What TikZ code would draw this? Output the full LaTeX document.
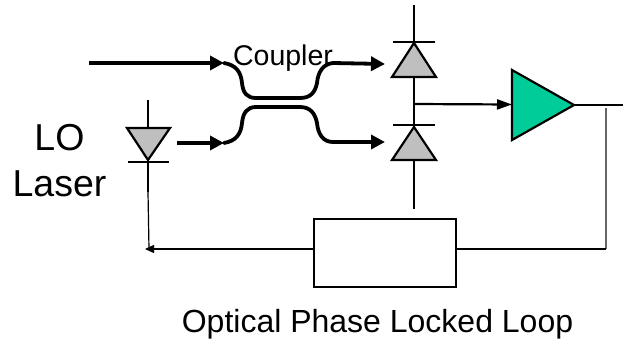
\documentclass[tikz,border=0pt]{standalone}
\usepackage{fontspec}
\setmainfont{Liberation Sans}
\usetikzlibrary{arrows.meta}
\tikzset{
  fibre/.style={line width=3.8pt,black},
  wire/.style={line width=2.2pt,black},
  thinwire/.style={line width=1.2pt,black},
  feed/.style={line width=1.5pt,black!60},
  bigtip/.style={-{Triangle[length=14pt,width=14pt]}},
  midtip/.style={-{Triangle[length=15pt,width=10pt]}},
  smalltip/.style={-{Triangle[length=9pt,width=8pt]}},
  diode/.style={draw=black,line width=2.2pt,fill=black!25,line join=miter},
  amp/.style={draw=black,line width=2.2pt,fill=ampgreen,line join=miter},
  lbl/.style={inner sep=0pt,text=black,anchor=base},
}
\definecolor{ampgreen}{RGB}{0,204,153}
\begin{document}
\begin{tikzpicture}[x=1pt,y=-1pt]
\useasboundingbox (0,0) rectangle (623,345);
% named points
\coordinate (inA) at (89,63);
\coordinate (inB) at (177,143);
\coordinate (c1L) at (224,63);
\coordinate (c1R) at (333,63);
\coordinate (c2L) at (224,143);
\coordinate (c2R) at (333,142);
\coordinate (d1Top) at (414,5);
\coordinate (d1Apex) at (414,43);
\coordinate (d1Base) at (414,77);
\coordinate (d2Apex) at (414,127);
\coordinate (d2Base) at (414,160);
\coordinate (d2End) at (414,209);
\coordinate (tap) at (414,104);
\coordinate (d1In) at (385,64);
\coordinate (d2In) at (385,142);
\coordinate (ampIn) at (512,104.5);
\coordinate (ampOut) at (574,105);
\coordinate (outEnd) at (623,105);
\coordinate (fbTop) at (606,108);
\coordinate (loTop) at (148,100);
\coordinate (loBase) at (148,128);
\coordinate (loApex) at (148,160);
\coordinate (loMid) at (148,192);
\coordinate (loEnd) at (149,249);
\coordinate (fbTip) at (145,249);
\node[draw=black,line width=1.4pt,minimum width=142pt,minimum height=68pt,inner sep=0pt] (pll) at (385,253) {};
\coordinate (fbCorner) at (606,249);
% fibres
\draw[fibre,bigtip] (inA) -- (c1L);
\draw[fibre,bigtip] (inB) -- (c2L);
\draw[fibre,line cap=round] (c1L) .. controls (236,65) and (241,72) .. (242,83) .. controls (243,93) and (247,98) .. (256,98) -- (300,98) .. controls (310,98) and (315,93) .. (317,83) .. controls (318,72) and (323,64) .. (c1R);
\draw[fibre,line cap=round] (c2L) .. controls (236,141) and (241,134) .. (242,123) .. controls (243,113) and (247,107) .. (256,107) -- (300,107) .. controls (310,107) and (315,113) .. (317,123) .. controls (318,134) and (323,142) .. (c2R);
\draw[fibre,bigtip] (c1R) -- (d1In);
\draw[fibre,bigtip] (c2R) -- (d2In);
% detectors
\draw[wire] (d1Top) -- (d1Apex);
\draw[wire] (d1Base) -- (d2Apex);
\draw[wire] (d2Base) -- (d2End);
\draw[diode] (d1Apex) -- (436,77) -- (392,77) -- cycle;
\draw[diode] (d2Apex) -- (436,160) -- (392,160) -- cycle;
\draw[wire] (393,42) -- (435,42);
\draw[wire] (393,125) -- (435,125);
\draw[wire,midtip] (tap) -- (ampIn);
% amplifier
\draw[amp] (512,70) -- (ampOut) -- (512,140) -- cycle;
\draw[wire] (ampOut) -- (outEnd);
% LO laser diode
\draw[wire] (loTop) -- (loBase);
\draw[diode] (127,128) -- (170,128) -- (loApex) -- cycle;
\draw[wire] (128,162) -- (169,162);
\draw[wire] (loApex) -- (loMid);
\draw[thinwire] (loMid) -- (loEnd);
% feedback loop
\draw[feed] (fbTop) -- (fbCorner);
\draw[thinwire] (fbCorner) -- (pll.east |- fbCorner);
\draw[thinwire,smalltip] (pll.west |- fbCorner) -- (fbTip);
% labels
\node[lbl,font=\fontsize{28.5}{34}\selectfont] (cpl) at (283,65) {Coupler};
\node[lbl,font=\fontsize{37.5}{44}\selectfont] (lo) at (59.5,150) {LO};
\node[lbl,font=\fontsize{37.5}{44}\selectfont] (las) at (59.5,196) {Laser};
\node[lbl,font=\fontsize{32}{38}\selectfont] (opll) at (377.5,332) {Optical Phase Locked Loop};
\end{tikzpicture}
\end{document}
